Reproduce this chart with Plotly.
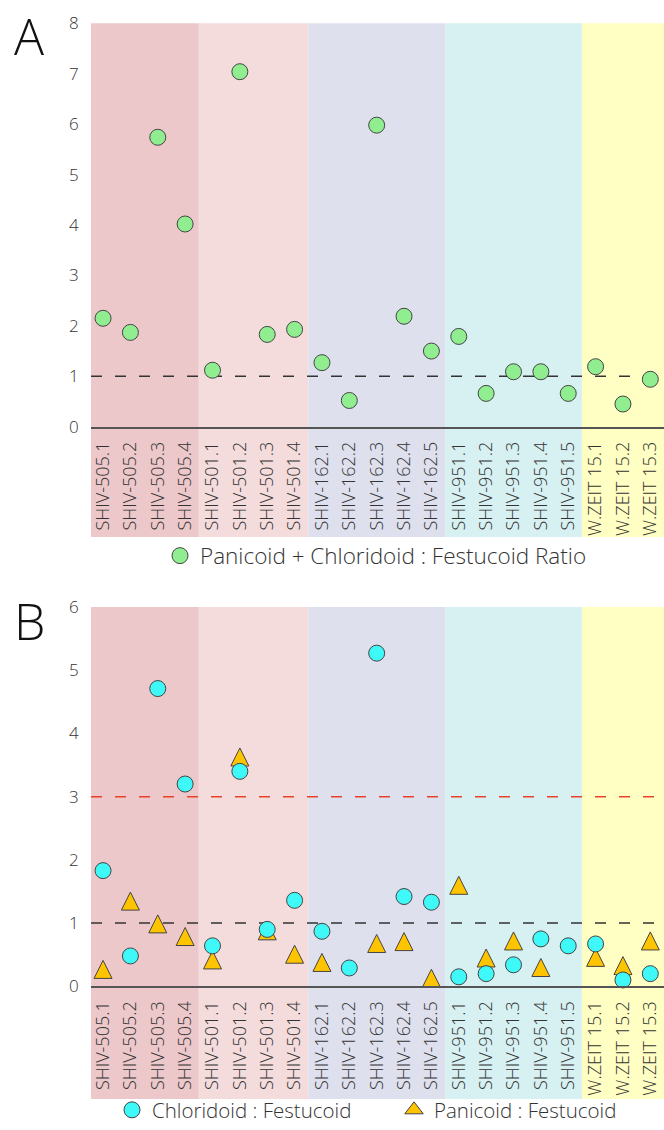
import plotly.graph_objects as go

categories = ["SHIV-505.1", "SHIV-505.2", "SHIV-505.3", "SHIV-505.4",
              "SHIV-501.1", "SHIV-501.2", "SHIV-501.3", "SHIV-501.4",
              "SHIV-162.1", "SHIV-162.2", "SHIV-162.3", "SHIV-162.4", "SHIV-162.5",
              "SHIV-951.1", "SHIV-951.2", "SHIV-951.3", "SHIV-951.4", "SHIV-951.5",
              "W.ZEIT 15.1", "W.ZEIT 15.2", "W.ZEIT 15.3"]
group_sizes = [4, 4, 5, 5, 3]
group_colors = ["#edc8ca", "#f4dcdd", "#dfe0ee", "#d7f0f1", "#ffffc3"]

ratio_pc_f = [2.15, 1.87, 5.74, 4.02, 1.12, 7.04, 1.83, 1.93, 1.27, 0.52, 5.98,
              2.19, 1.50, 1.79, 0.66, 1.09, 1.09, 0.66, 1.19, 0.45, 0.94]
chlor_f = [1.83, 0.48, 4.71, 3.20, 0.64, 3.40, 0.90, 1.36, 0.87, 0.29, 5.27,
           1.42, 1.33, 0.15, 0.20, 0.34, 0.75, 0.64, 0.67, 0.10, 0.20]
pani_f = [0.22, 1.30, 0.94, 0.74, 0.37, 3.58, 0.83, 0.46, 0.33, None, 0.63,
          0.66, 0.08, 1.55, 0.40, 0.67, 0.25, -0.05, 0.41, 0.28, 0.67]

W, H = 664, 1130
FONT = "Open Sans"
TXT = "#333333"
GREEN, CYAN, GOLD, EDGE = "#90ee90", "#3ff8f8", "#ffc400", "#444444"

idx = list(range(len(categories)))
xr = [-0.44, 20.5]
xdom = [91 / W, 1.0]
ydomA = [1 - 426.7 / H, 1 - 23.3 / H]
ydomB = [1 - 986.3 / H, 1 - 607 / H]

fig = go.Figure()

fig.add_trace(go.Scatter(
    x=idx, y=ratio_pc_f, mode="markers", xaxis="x", yaxis="y",
    name="Panicoid + Chloridoid : Festucoid Ratio", legend="legend",
    marker=dict(symbol="circle", size=16, color=GREEN,
                line=dict(color=EDGE, width=1)),
    cliponaxis=False))

# Panicoid triangles (drawn first so circles sit on top)
fig.add_trace(go.Scatter(
    x=idx, y=pani_f, mode="markers", xaxis="x2", yaxis="y2",
    name="Panicoid : Festucoid", showlegend=False,
    marker=dict(symbol="arrow-down", angle=180, size=18, color=GOLD,
                standoff=12, line=dict(color=EDGE, width=1)),
    cliponaxis=False))

fig.add_trace(go.Scatter(
    x=idx, y=chlor_f, mode="markers", xaxis="x2", yaxis="y2",
    name="Chloridoid : Festucoid", legend="legend2",
    marker=dict(symbol="circle", size=16, color=CYAN,
                line=dict(color=EDGE, width=1)),
    cliponaxis=False))

# legend entry for the triangle series (no data of its own)
fig.add_trace(go.Scatter(
    x=[None], y=[None], mode="markers", xaxis="x2", yaxis="y2",
    name="Panicoid : Festucoid", legend="legend3",
    marker=dict(symbol="triangle-up", size=18, color=GOLD,
                line=dict(color=EDGE, width=1))))


def xpaper(v):
    v = min(max(v, xr[0]), xr[1])
    return xdom[0] + (v - xr[0]) / (xr[1] - xr[0]) * (xdom[1] - xdom[0])


shapes = []
bands_y = [(1 - 537 / H, ydomA[1]), (1 - 1099 / H, ydomB[1])]
for (y0, y1) in bands_y:
    start = -0.5
    for n, col in zip(group_sizes, group_colors):
        end = start + n
        shapes.append(dict(type="rect", xref="paper", yref="paper",
                           x0=xpaper(start), x1=xpaper(end), y0=y0, y1=y1,
                           fillcolor=col, line=dict(width=0), layer="below"))
        start = end

ref_lines = [("y", 1, "#333333"), ("y2", 1, "#333333"), ("y2", 3, "#e8432a")]
for yref, val, col in ref_lines:
    shapes.append(dict(type="line", xref="paper", yref=yref,
                       x0=xdom[0], x1=xdom[1], y0=val, y1=val,
                       line=dict(color=col, width=1.5, dash="11px,13px"),
                       layer="below"))

xaxis_common = dict(range=xr, domain=xdom, tickmode="array", tickvals=idx,
                    ticktext=categories, tickangle=-90, showgrid=False,
                    zeroline=False, showline=True, linecolor="#555555",
                    linewidth=1.5, ticks="outside", ticklen=6,
                    tickcolor="rgba(0,0,0,0)", ticklabeloverflow="allow",
                    automargin=False,
                    tickfont=dict(family=FONT, size=18, color=TXT, weight=300))
yaxis_common = dict(showgrid=False, zeroline=False, showline=False,
                    ticks="outside", ticklen=8, tickcolor="rgba(0,0,0,0)",
                    automargin=False,
                    tickfont=dict(family=FONT, size=17, color=TXT, weight=300))

legend_common = dict(orientation="h", xanchor="left", yanchor="middle",
                     bgcolor="rgba(0,0,0,0)")

fig.update_layout(
    width=W, height=H,
    margin=dict(l=0, r=0, t=0, b=0, pad=0, autoexpand=False),
    paper_bgcolor="white", plot_bgcolor="rgba(0,0,0,0)",
    font=dict(family=FONT, color=TXT),
    xaxis=dict(**xaxis_common, anchor="y"),
    yaxis=dict(**yaxis_common, domain=ydomA, range=[0, 8], dtick=1, anchor="x"),
    xaxis2=dict(**xaxis_common, anchor="y2"),
    yaxis2=dict(**yaxis_common, domain=ydomB, range=[0, 6], dtick=1, anchor="x2"),
    shapes=shapes,
    legend=dict(**legend_common, x=160 / W, y=1 - 556 / H,
                font=dict(family=FONT, size=22.5, color=TXT, weight=300)),
    legend2=dict(**legend_common, x=112 / W, y=1 - 1110 / H,
                 font=dict(family=FONT, size=20.5, color=TXT, weight=300)),
    legend3=dict(**legend_common, x=394 / W, y=1 - 1110 / H,
                 font=dict(family=FONT, size=20.5, color=TXT, weight=300)),
    showlegend=True,
    annotations=[
        dict(text="A", x=29 / W, y=1 - 36 / H, xref="paper", yref="paper",
             xanchor="center", yanchor="middle", showarrow=False,
             font=dict(family=FONT, size=50, color="#111111", weight=300)),
        dict(text="B", x=29 / W, y=1 - 621 / H, xref="paper", yref="paper",
             xanchor="center", yanchor="middle", showarrow=False,
             font=dict(family=FONT, size=50, color="#111111", weight=300)),
    ],
)

fig.write_html("out.html")
